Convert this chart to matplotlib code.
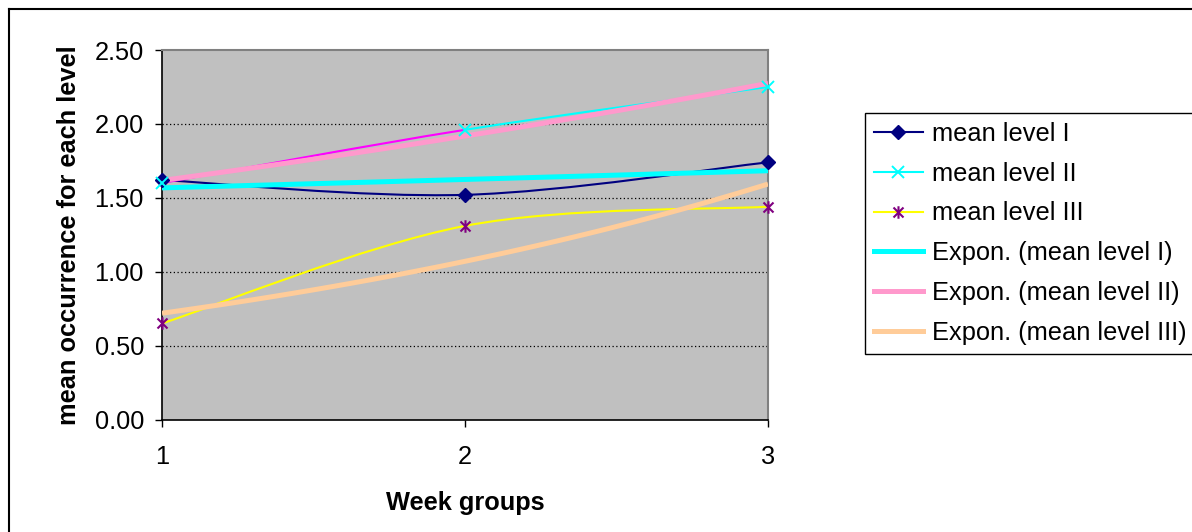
import numpy as np
import matplotlib
matplotlib.use("Agg")
import matplotlib.pyplot as plt
from matplotlib.path import Path
from matplotlib.patches import PathPatch
from matplotlib.lines import Line2D

plt.rcParams['font.family'] = ['Liberation Sans', 'DejaVu Sans']

# data
weeks = [1, 2, 3]
level_1 = [1.62, 1.52, 1.74]
level_2 = [1.60, 1.96, 2.25]
level_3 = [0.65, 1.31, 1.44]
y_ticks = [0.0, 0.5, 1.0, 1.5, 2.0, 2.5]

series_labels = ['mean level I', 'mean level II', 'mean level III']
trend_labels = ['Expon. (mean level I)', 'Expon. (mean level II)', 'Expon. (mean level III)']

NAVY = '#000080'
CYAN = '#00FFFF'
MAGENTA = '#FF00FF'
YELLOW = '#FFFF00'
PURPLE = '#800080'
PINK = '#FF99CC'
PEACH = '#FFCC99'

FS = 18.3

# asterisk marker like excel: x with a vertical bar
star = Path([(-1, -1), (1, 1), (-1, 1), (1, -1), (0, -1.25), (0, 1.25)],
            [Path.MOVETO, Path.LINETO, Path.MOVETO, Path.LINETO, Path.MOVETO, Path.LINETO])


def smooth_segment(xs, ys, i):
    """excel-style smoothed segment between point i and i+1 (cubic bezier)"""
    n = len(xs)
    p = np.column_stack([xs, ys]).astype(float)
    p_prev = p[max(i - 1, 0)]
    p_next = p[min(i + 2, n - 1)]
    c1 = p[i] + (p[i + 1] - p_prev) / 6.0
    c2 = p[i + 1] - (p_next - p[i]) / 6.0
    return Path([p[i], c1, c2, p[i + 1]],
                [Path.MOVETO, Path.CURVE4, Path.CURVE4, Path.CURVE4])


def draw_smooth(ax, xs, ys, colors, lw):
    for i in range(len(xs) - 1):
        patch = PathPatch(smooth_segment(xs, ys, i), fill=False,
                          edgecolor=colors[i], lw=lw, zorder=2,
                          capstyle='round', joinstyle='round')
        ax.add_patch(patch)


def expon_trend(xs, ys):
    b, a = np.polyfit(xs, np.log(ys), 1)
    xx = np.linspace(xs[0], xs[-1], 100)
    return xx, np.exp(a + b * xx)


fig = plt.figure(figsize=(11.92, 5.32), dpi=100)
ax = fig.add_axes([162 / 1192, 1 - 419.5 / 532, (768 - 162) / 1192, (419.5 - 50) / 532])
ax.set_facecolor('#C0C0C0')

x = np.array(weeks)

# series lines (smoothed)
draw_smooth(ax, x, level_1, [NAVY, NAVY], 1.5)
draw_smooth(ax, x, level_2, [MAGENTA, CYAN], 1.5)
draw_smooth(ax, x, level_3, [YELLOW, YELLOW], 1.5)

# trendlines on top
for ys, col in zip([level_1, level_2, level_3], [CYAN, PINK, PEACH]):
    xx, yy = expon_trend(x, ys)
    ax.plot(xx, yy, color=col, lw=3.6, zorder=3, solid_capstyle='butt')

# markers
ax.plot(x, level_1, linestyle='none', marker='D', ms=7, color=NAVY, zorder=4, clip_on=False)
ax.plot(x, level_2, linestyle='none', marker='x', ms=9, mew=1.4, color=CYAN, zorder=4, clip_on=False)
ax.plot(x, level_3, linestyle='none', marker=star, ms=9, mew=1.5,
        markeredgecolor=PURPLE, markerfacecolor='none', zorder=4, clip_on=False)

ax.set_xlim(1, 3)
ax.set_ylim(0, 2.5)
ax.set_xticks(weeks)
ax.set_xticklabels([str(w) for w in weeks])
ax.set_yticks(y_ticks)
ax.set_yticklabels([f'{v:.2f}' for v in y_ticks])
ax.tick_params(axis='both', labelsize=FS, direction='out', length=5, width=1, color='black')
ax.tick_params(axis='y', pad=8)
ax.tick_params(axis='x', pad=13)

for v in y_ticks[1:-1]:
    ax.axhline(v, color='black', lw=0.9, linestyle=(0, (1, 2)), zorder=1)

ax.spines['left'].set_color('black')
ax.spines['bottom'].set_color('black')
ax.spines['left'].set_linewidth(1.2)
ax.spines['bottom'].set_linewidth(1.2)
ax.spines['top'].set_color('#808080')
ax.spines['right'].set_color('#808080')
ax.spines['top'].set_linewidth(1.5)
ax.spines['right'].set_linewidth(1.5)

ax.set_xlabel('Week groups', fontsize=FS, fontweight='bold', labelpad=16)
ax.set_ylabel('mean occurrence for each level', fontsize=FS, fontweight='bold', labelpad=10)

# legend
handles = [
    Line2D([], [], color=NAVY, lw=1.5, marker='D', ms=7),
    Line2D([], [], color=CYAN, lw=1.5, marker='x', ms=9, mew=1.4),
    Line2D([], [], color=YELLOW, lw=1.5, marker=star, ms=9, mew=1.5,
           markeredgecolor=PURPLE, markerfacecolor='none'),
    Line2D([], [], color=CYAN, lw=3.6),
    Line2D([], [], color=PINK, lw=3.6),
    Line2D([], [], color=PEACH, lw=3.6),
]
leg = fig.legend(handles, series_labels + trend_labels, loc='upper left',
                 bbox_to_anchor=(865 / 1192, 1 - 113 / 532), fontsize=FS,
                 frameon=True, fancybox=False, shadow=False, framealpha=1,
                 edgecolor='black', borderpad=0.35, handlelength=1.93,
                 handletextpad=0.35, labelspacing=0.62, borderaxespad=0)
leg.get_frame().set_linewidth(1.0)

# outer chart border (top and left only visible)
fig.add_artist(Line2D([9 / 1192, 9 / 1192], [0, 1 - 9 / 532], color='black', lw=1.5))
fig.add_artist(Line2D([9 / 1192, 1], [1 - 9 / 532, 1 - 9 / 532], color='black', lw=1.5))

fig.savefig('out.png', dpi=100)
